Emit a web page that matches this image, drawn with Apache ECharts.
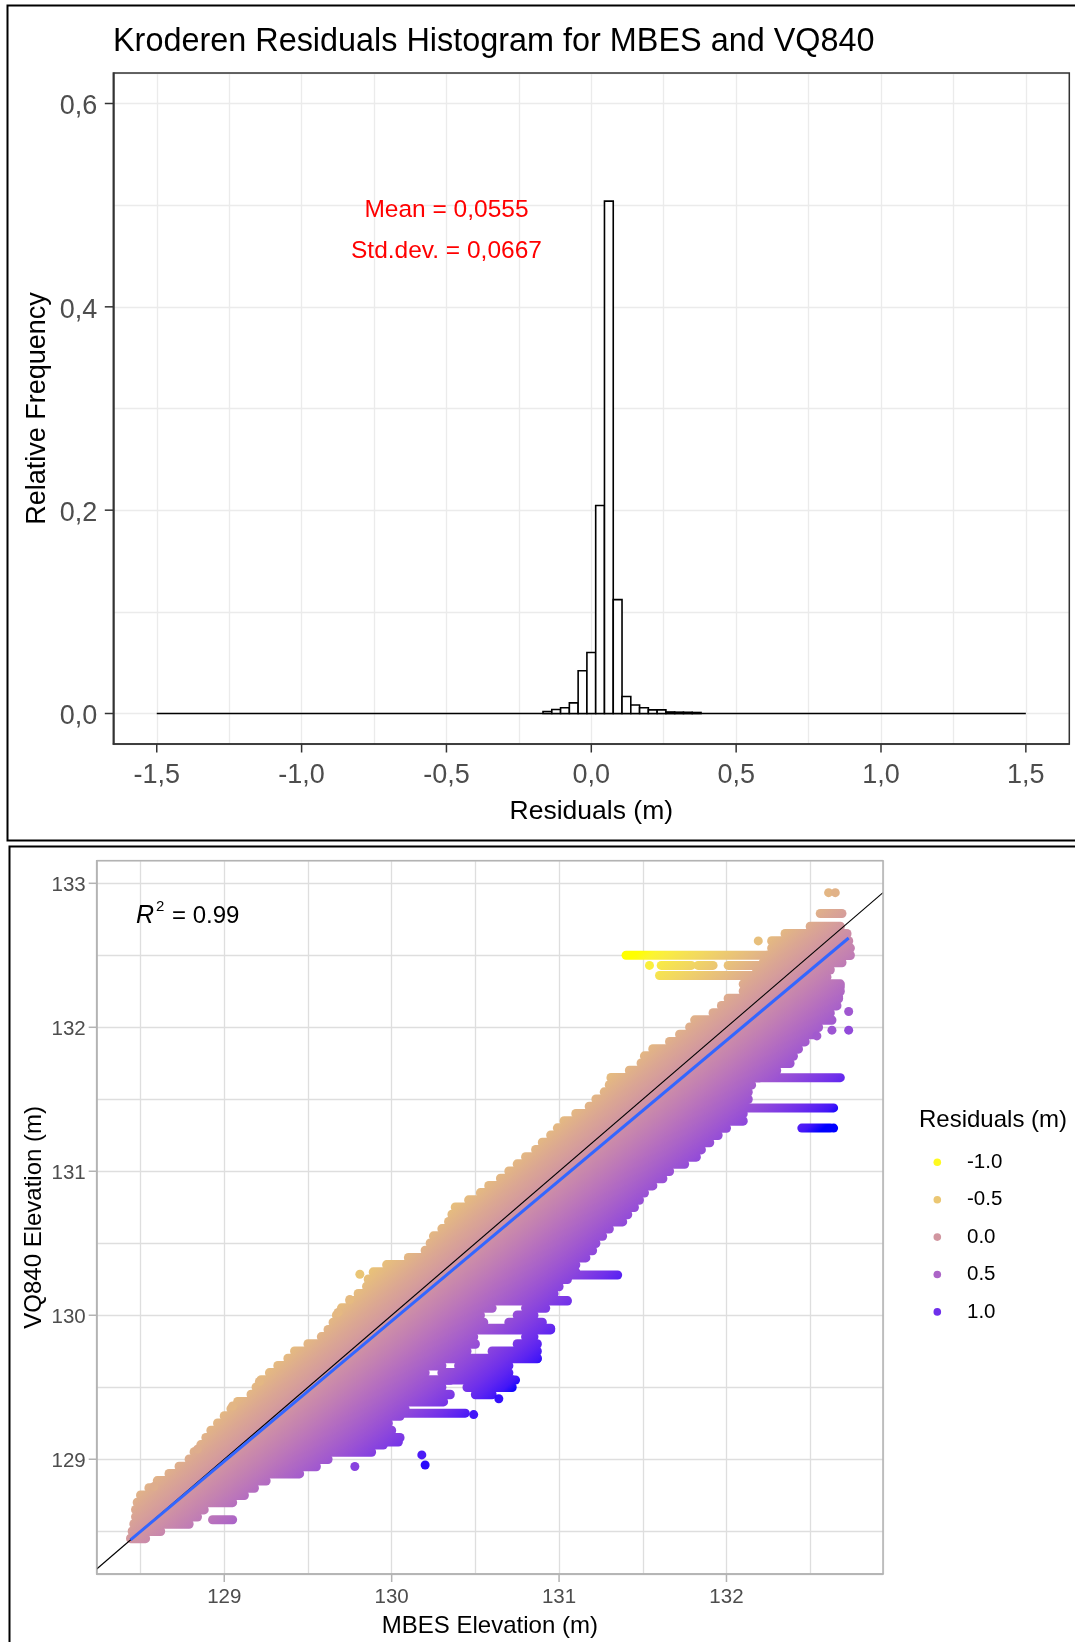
<!DOCTYPE html>
<html>
<head>
<meta charset="utf-8">
<script src="https://cdn.jsdelivr.net/npm/echarts@6/dist/echarts.min.js"></script>
<style>
  html, body { margin: 0; padding: 0; background: #ffffff; }
  #chart { width: 1075px; height: 1642px; }
</style>
</head>
<body>
<div id="chart"></div>
<script>
// ---------- Residual histogram (relative frequency, bin width 3/99 m) ----------
const binWidth = 3 / 99;
const binCentres = [-0.1515, -0.1212, -0.0909, -0.0606, -0.0303, 0.0000, 0.0303, 0.0606, 0.0909,
                    0.1212, 0.1515, 0.1818, 0.2121, 0.2424, 0.2727, 0.3030, 0.3333, 0.3636];
const relFreq    = [0.0020, 0.0040, 0.0056, 0.0105, 0.0420, 0.0600, 0.2046, 0.5040, 0.1120,
                    0.0167, 0.0083, 0.0056, 0.0036, 0.0036, 0.0015, 0.0013, 0.0012, 0.0010];
const histRange  = [-1.5, 1.5];           // empty bins drawn as a flat outline
const histXTicks = [-1.5, -1, -0.5, 0, 0.5, 1, 1.5];
const histYTicks = [0, 0.2, 0.4, 0.6];
const histXLim   = [-1.65, 1.65];
const histYLim   = [-0.03, 0.63];
const histNotes  = [[-0.5, 0.495], [-0.5, 0.455]];
const histNoteText = ['Mean = 0,0555', 'Std.dev. = 0,0667'];

// ---------- MBES vs VQ840 elevations ----------
// point cloud, one or more runs per VQ840 level -> [VQ840, MBES from, MBES to]
const bandRows = [
  [128.45, 128.44, 128.53], [128.50, 128.45, 128.62], [128.55, 128.46, 128.79],
  [128.60, 128.47, 128.84], [128.65, 128.47, 128.88], [128.70, 128.48, 129.05],
  [128.75, 128.50, 129.12], [128.80, 128.55, 129.18], [128.85, 128.60, 129.25],
  [128.90, 128.67, 129.45], [128.95, 128.73, 129.55], [129.00, 128.79, 129.62],
  [129.05, 128.82, 129.88], [129.10, 128.86, 129.95], [129.15, 128.89, 130.05],
  [129.20, 128.92, 130.00], [129.25, 128.96, 129.98], [129.30, 129.00, 130.05],
  [129.35, 129.04, 130.08], [129.40, 129.08, 130.31], [129.45, 129.16, 130.35],
  [129.45, 130.50, 130.60],
  [129.50, 129.19, 130.30], [129.50, 130.45, 130.72],
  [129.55, 129.22, 130.35], [129.55, 130.50, 130.72],
  [129.60, 129.27, 130.20], [129.60, 130.30, 130.70],
  [129.65, 129.32, 130.30], [129.65, 130.40, 130.70],
  [129.70, 129.38, 130.87],
  [129.75, 129.42, 130.45], [129.75, 130.60, 130.87],
  [129.80, 129.50, 130.50], [129.80, 130.75, 130.87],
  [129.85, 129.58, 130.49], [129.85, 130.80, 130.85],
  [129.90, 129.62, 130.95],
  [129.95, 129.65, 130.55], [129.95, 130.70, 130.90],
  [130.00, 129.67, 130.53], [130.00, 130.75, 130.85],
  [130.05, 129.70, 130.60], [130.05, 130.80, 130.92],
  [130.10, 129.75, 131.05], [130.15, 129.80, 130.97], [130.20, 129.85, 131.00],
  [130.25, 129.86, 131.05], [130.30, 129.89, 131.10], [130.35, 129.97, 131.10],
  [130.40, 130.10, 131.16], [130.45, 130.20, 131.20], [130.50, 130.23, 131.22],
  [130.55, 130.25, 131.26], [130.60, 130.30, 131.30], [130.65, 130.34, 131.38],
  [130.70, 130.36, 131.41], [130.75, 130.38, 131.45], [130.80, 130.46, 131.48],
  [130.85, 130.53, 131.51], [130.90, 130.58, 131.56], [130.95, 130.65, 131.62],
  [131.00, 130.70, 131.66], [131.05, 130.75, 131.75], [131.10, 130.80, 131.82],
  [131.15, 130.86, 131.85], [131.20, 130.90, 131.90], [131.25, 130.95, 131.95],
  [131.30, 130.99, 132.00], [131.35, 131.03, 132.10], [131.40, 131.10, 132.10],
  [131.45, 131.18, 132.10], [131.50, 131.22, 132.13], [131.55, 131.27, 132.13],
  [131.60, 131.30, 132.15], [131.65, 131.31, 132.20], [131.70, 131.42, 132.30],
  [131.75, 131.49, 132.38], [131.80, 131.51, 132.40], [131.85, 131.56, 132.43],
  [131.90, 131.66, 132.47], [131.95, 131.72, 132.52], [132.00, 131.78, 132.55],
  [132.05, 131.81, 132.63], [132.10, 131.92, 132.62], [132.15, 131.97, 132.66],
  [132.20, 132.01, 132.67], [132.25, 132.10, 132.68], [132.30, 132.10, 132.68],
  [132.35, 132.14, 132.60], [132.40, 132.18, 132.62], [132.45, 132.22, 132.69],
  [132.50, 132.25, 132.74], [132.55, 132.27, 132.74], [132.60, 132.27, 132.73],
  [132.65, 132.35, 132.72], [132.70, 132.50, 132.68]
];
// detached horizontal runs of points -> [VQ840, MBES start, MBES end]
const streaks = [
  [132.50, 131.40, 132.30], [132.43, 131.61, 131.79], [132.43, 131.83, 131.92],
  [132.43, 132.01, 132.23], [132.36, 131.60, 132.21], [132.79, 132.56, 132.69],
  [132.28, 132.53, 132.68], [132.21, 132.45, 132.67], [131.65, 132.21, 132.68],
  [131.44, 132.09, 132.64], [131.30, 132.45, 132.62], [130.28, 130.90, 131.35],
  [129.91, 130.52, 130.95], [129.70, 130.50, 130.87], [129.55, 130.30, 130.74],
  [129.32, 129.89, 130.44], [129.12, 129.75, 130.04], [128.58, 128.93, 129.05]
];
// single points -> [MBES, VQ840]
const singlePoints = [
  [132.61, 132.935], [132.65, 132.935], [132.73, 132.11], [132.63, 131.98], [132.73, 131.98],
  [132.54, 131.94], [132.64, 131.30], [131.54, 132.43], [132.19, 132.60],
  [130.64, 129.42], [130.49, 129.31], [130.18, 129.03], [130.20, 128.96], [129.78, 128.95],
  [129.81, 130.285], [129.68, 130.02], [129.75, 130.11], [129.21, 129.54], [129.05, 129.37],
  [128.84, 129.07], [128.58, 128.81]
];
const identityLine = [[128.238, 128.238], [132.935, 132.935]];
const fitLine      = [[128.44, 128.44], [132.73, 132.62]];
const scatterXTicks = [129, 130, 131, 132];
const scatterYTicks = [129, 130, 131, 132, 133];
const scatXLim = [128.238, 132.935];
const scatYLim = [128.203, 133.157];
const legendValues  = [-1.0, -0.5, 0.0, 0.5, 1.0];
const residualRange = [-1.05, 1.28];   // limits of the colour scale (m)

// ---------- colour scale: yellow -> blue interpolated in CIE Lab ----------
const WHITE = [0.95047, 1, 1.08883];
function toLin(c) { c /= 255; return c <= 0.04045 ? c / 12.92 : Math.pow((c + 0.055) / 1.055, 2.4); }
function toByte(c) {
  const v = c <= 0.0031308 ? 12.92 * c : 1.055 * Math.pow(c, 1 / 2.4) - 0.055;
  return Math.round(Math.min(1, Math.max(0, v)) * 255);
}
function rgb2lab(rgb) {
  const [r, g, b] = rgb.map(toLin);
  const X = (0.4124 * r + 0.3576 * g + 0.1805 * b) / WHITE[0];
  const Y = (0.2126 * r + 0.7152 * g + 0.0722 * b) / WHITE[1];
  const Z = (0.0193 * r + 0.1192 * g + 0.9505 * b) / WHITE[2];
  const f = t => t > 216 / 24389 ? Math.cbrt(t) : (24389 / 27 * t + 16) / 116;
  const fx = f(X), fy = f(Y), fz = f(Z);
  return [116 * fy - 16, 500 * (fx - fy), 200 * (fy - fz)];
}
function lab2rgb(lab) {
  const fy = (lab[0] + 16) / 116, fx = fy + lab[1] / 500, fz = fy - lab[2] / 200;
  const inv = t => t * t * t > 216 / 24389 ? t * t * t : (116 * t - 16) / (24389 / 27);
  const X = inv(fx) * WHITE[0], Y = inv(fy) * WHITE[1], Z = inv(fz) * WHITE[2];
  return [
    toByte(3.2406 * X - 1.5372 * Y - 0.4986 * Z),
    toByte(-0.9689 * X + 1.8758 * Y + 0.0415 * Z),
    toByte(0.0557 * X - 0.2040 * Y + 1.0570 * Z)
  ];
}
const labLow = rgb2lab([255, 255, 0]), labHigh = rgb2lab([0, 0, 255]);
function colourAt(t) {
  t = Math.min(1, Math.max(0, t));
  const c = lab2rgb(labLow.map((v, i) => v + (labHigh[i] - v) * t));
  return 'rgb(' + c.join(',') + ')';
}
function residualColour(r) {
  return colourAt((r - residualRange[0]) / (residualRange[1] - residualRange[0]));
}
const colourStops = Array.from({ length: 25 }, (_, i) => ({ offset: i / 24, color: colourAt(i / 24) }));

// gradient running across the plot so that colour follows residual = MBES - VQ840
function residualFill(api) {
  const a = api.coord([130, 130]), b = api.coord([131, 131]);
  const gx = 1 / (b[0] - a[0]), gy = 1 / (a[1] - b[1]);
  const g2 = gx * gx + gy * gy;
  const s0 = residualRange[0] / g2, s1 = residualRange[1] / g2;
  return new echarts.graphic.LinearGradient(
    a[0] + s0 * gx, a[1] + s0 * gy, a[0] + s1 * gx, a[1] + s1 * gy, colourStops, true);
}
const POINT_R = 4.5;
function runRenderer(rowHeight) {
  return function (params, api) {
    const y = api.value(0), x0 = api.value(1), x1 = api.value(2);
    const p0 = api.coord([x0, y]), p1 = api.coord([x1, y]);
    const h = rowHeight;
    return {
      type: 'rect',
      shape: { x: p0[0] - POINT_R, y: p0[1] - h / 2, width: p1[0] - p0[0] + 2 * POINT_R, height: h, r: Math.min(h / 2, POINT_R) },
      style: { fill: residualFill(api) }
    };
  };
}
// short tick marks hanging off a plot edge, placed by the axis scales
function tickMarks(xIdx, yIdx, points, dx, dy, colour) {
  return {
    type: 'custom', xAxisIndex: xIdx, yAxisIndex: yIdx, z: 120, silent: true, clip: false,
    data: points, encode: { x: 0, y: 1 },
    renderItem: function (params, api) {
      const c = api.coord([api.value(0), api.value(1)]);
      return { type: 'line', shape: { x1: c[0], y1: c[1], x2: c[0] + dx, y2: c[1] + dy }, style: { stroke: colour, lineWidth: 1.5 } };
    }
  };
}

// ---------- layout ----------
const FONT = "'Liberation Sans', Arial, Helvetica, sans-serif";
const gridHist = { left: 113.3, top: 73, width: 956, height: 671 };
const gridScat = { left: 96.7, top: 860.7, width: 786.3, height: 713.3 };
const fmtComma = v => v.toFixed(1).replace('.', ',');
const legendX = 937.3, legendTop = 1162.3, legendStep = 37.4;
const HIST_INK = '#333333', SCAT_INK = '#B3B3B3';

const chart = echarts.init(document.getElementById('chart'), null, { renderer: 'canvas' });

const graphics = [
  // panel frames
  { type: 'rect', z: 100, shape: { x: 7.5, y: 5.5, width: 1080, height: 835 }, style: { fill: 'none', stroke: '#000', lineWidth: 2 } },
  { type: 'rect', z: 100, shape: { x: 9.5, y: 846.5, width: 1080, height: 810 }, style: { fill: 'none', stroke: '#000', lineWidth: 2 } },
  // plot borders
  { type: 'rect', z: 100, shape: { x: gridHist.left, y: gridHist.top, width: gridHist.width, height: gridHist.height }, style: { fill: 'none', stroke: HIST_INK, lineWidth: 1.5 } },
  { type: 'rect', z: 100, shape: { x: gridScat.left, y: gridScat.top, width: gridScat.width, height: gridScat.height }, style: { fill: 'none', stroke: SCAT_INK, lineWidth: 1.5 } },
  // title
  { type: 'text', z: 100, x: 113, y: 42, style: { text: 'Kroderen Residuals Histogram for MBES and VQ840', font: '32.4px ' + FONT, fill: '#000', verticalAlign: 'middle', align: 'left' } },
  // coefficient of determination
  { type: 'text', z: 100, x: 136, y: 916, style: { text: 'R', font: 'italic 25px ' + FONT, fill: '#000', verticalAlign: 'middle', align: 'left' } },
  { type: 'text', z: 100, x: 156, y: 907, style: { text: '2', font: '15px ' + FONT, fill: '#000', verticalAlign: 'middle', align: 'left' } },
  { type: 'text', z: 100, x: 172, y: 916, style: { text: '= 0.99', font: '24px ' + FONT, fill: '#000', verticalAlign: 'middle', align: 'left' } },
  // colour legend
  { type: 'text', z: 100, x: 919, y: 1120, style: { text: 'Residuals (m)', font: '24px ' + FONT, fill: '#000', verticalAlign: 'middle', align: 'left' } }
];
legendValues.forEach((v, i) => {
  const y = legendTop + i * legendStep;
  graphics.push({ type: 'circle', z: 100, shape: { cx: legendX, cy: y, r: 3.8 }, style: { fill: residualColour(v) } });
  graphics.push({ type: 'text', z: 100, x: 967, y: y, style: { text: v.toFixed(1), font: '20.5px ' + FONT, fill: '#000', verticalAlign: 'middle', align: 'left' } });
});

const option = {
  animation: false,
  backgroundColor: '#ffffff',
  grid: [
    { left: gridHist.left, top: gridHist.top, width: gridHist.width, height: gridHist.height },
    { left: gridScat.left, top: gridScat.top, width: gridScat.width, height: gridScat.height }
  ],
  xAxis: [
    {
      type: 'value', gridIndex: 0, min: histXLim[0], max: histXLim[1], minInterval: 0.25, maxInterval: 0.25,
      axisLine: { show: true, onZero: false, lineStyle: { color: HIST_INK, width: 1.5 } },
      splitLine: { show: true, lineStyle: { color: '#EBEBEB', width: 1.3 } },
      axisTick: { show: false },
      axisLabel: { customValues: histXTicks, formatter: fmtComma, fontSize: 27, fontFamily: FONT, color: '#4D4D4D', margin: 18 },
      name: 'Residuals (m)', nameLocation: 'middle', nameGap: 54, nameMoveOverlap: false,
      nameTextStyle: { fontSize: 26.5, fontFamily: FONT, color: '#000' }
    },
    {
      type: 'value', gridIndex: 1, min: scatXLim[0], max: scatXLim[1], minInterval: 0.5, maxInterval: 0.5,
      axisLine: { show: true, onZero: false, lineStyle: { color: SCAT_INK, width: 1.5 } },
      splitLine: { show: true, lineStyle: { color: '#DEDEDE', width: 1.3 } },
      axisTick: { show: false },
      axisLabel: { customValues: scatterXTicks, formatter: v => String(v), fontSize: 20.5, fontFamily: FONT, color: '#4D4D4D', margin: 13 },
      name: 'MBES Elevation (m)', nameLocation: 'middle', nameGap: 40, nameMoveOverlap: false,
      nameTextStyle: { fontSize: 24, fontFamily: FONT, color: '#000' }
    }
  ],
  yAxis: [
    {
      type: 'value', gridIndex: 0, min: histYLim[0], max: histYLim[1], minInterval: 0.1, maxInterval: 0.1,
      axisLine: { show: true, onZero: false, lineStyle: { color: HIST_INK, width: 1.5 } },
      splitLine: { show: true, lineStyle: { color: '#EBEBEB', width: 1.3 } },
      axisTick: { show: false },
      axisLabel: { customValues: histYTicks, formatter: v => '{t|' + fmtComma(v) + '}', margin: 16,
                   rich: { t: { fontSize: 27, fontFamily: FONT, color: '#4D4D4D', padding: [7, 0, 0, 0] } } },
      name: 'Relative Frequency', nameLocation: 'middle', nameGap: 62, nameMoveOverlap: false,
      nameTextStyle: { fontSize: 27, fontFamily: FONT, color: '#000' }
    },
    {
      type: 'value', gridIndex: 1, min: scatYLim[0], max: scatYLim[1], minInterval: 0.5, maxInterval: 0.5,
      axisLine: { show: true, onZero: false, lineStyle: { color: SCAT_INK, width: 1.5 } },
      splitLine: { show: true, lineStyle: { color: '#DEDEDE', width: 1.3 } },
      axisTick: { show: false },
      axisLabel: { customValues: scatterYTicks, formatter: v => '{t|' + v + '}', margin: 11,
                   rich: { t: { fontSize: 20.5, fontFamily: FONT, color: '#4D4D4D', padding: [4, 0, 0, 0] } } },
      name: 'VQ840 Elevation (m)', nameLocation: 'middle', nameGap: 50, nameMoveOverlap: false,
      nameTextStyle: { fontSize: 24, fontFamily: FONT, color: '#000' }
    }
  ],
  graphic: graphics,
  series: [
    // empty bins: flat outline along zero
    {
      type: 'line', xAxisIndex: 0, yAxisIndex: 0, z: 2, silent: true, showSymbol: false,
      data: histRange.map(x => [x, 0]), lineStyle: { color: '#000', width: 1.6 }
    },
    // histogram bars
    {
      type: 'custom', xAxisIndex: 0, yAxisIndex: 0, z: 3, silent: true,
      data: binCentres.map((c, i) => [c, relFreq[i]]),
      encode: { x: 0, y: 1 },
      renderItem: function (params, api) {
        const c = api.value(0), f = api.value(1);
        const p0 = api.coord([c - binWidth / 2, f]), p1 = api.coord([c + binWidth / 2, 0]);
        return {
          type: 'rect',
          shape: { x: p0[0], y: p0[1], width: p1[0] - p0[0], height: p1[1] - p0[1] },
          style: { fill: '#ffffff', stroke: '#000000', lineWidth: 1.6 }
        };
      }
    },
    // mean / standard deviation annotations
    {
      type: 'custom', xAxisIndex: 0, yAxisIndex: 0, z: 4, silent: true,
      data: histNotes, encode: { x: 0, y: 1 },
      renderItem: function (params, api) {
        const p = api.coord([api.value(0), api.value(1)]);
        return {
          type: 'text', x: p[0], y: p[1],
          style: { text: histNoteText[params.dataIndex], font: '24.5px ' + FONT, fill: '#FF0000', align: 'center', verticalAlign: 'middle' }
        };
      }
    },
    // axis tick marks
    tickMarks(0, 0, histXTicks.map(v => [v, histYLim[0]]), 0, 8.5, HIST_INK),
    tickMarks(0, 0, histYTicks.map(v => [histXLim[0], v]), -8.5, 0, HIST_INK),
    tickMarks(1, 1, scatterXTicks.map(v => [v, scatYLim[0]]), 0, 8, SCAT_INK),
    tickMarks(1, 1, scatterYTicks.map(v => [scatXLim[0], v]), -8, 0, SCAT_INK),
    // point cloud runs
    {
      type: 'custom', xAxisIndex: 1, yAxisIndex: 1, z: 2, silent: true,
      data: bandRows, encode: { x: [1, 2], y: 0 },
      renderItem: runRenderer(9.5)
    },
    // detached runs
    {
      type: 'custom', xAxisIndex: 1, yAxisIndex: 1, z: 3, silent: true,
      data: streaks, encode: { x: [1, 2], y: 0 },
      renderItem: runRenderer(2 * POINT_R)
    },
    // single points
    {
      type: 'scatter', xAxisIndex: 1, yAxisIndex: 1, z: 4, silent: true,
      data: singlePoints, symbolSize: 2 * POINT_R,
      itemStyle: { color: p => residualColour(p.value[0] - p.value[1]), opacity: 1 }
    },
    // 1:1 line
    {
      type: 'line', xAxisIndex: 1, yAxisIndex: 1, z: 5, silent: true, showSymbol: false,
      data: identityLine, lineStyle: { color: '#000000', width: 1.1 }
    },
    // fitted regression line
    {
      type: 'line', xAxisIndex: 1, yAxisIndex: 1, z: 6, silent: true, showSymbol: false,
      data: fitLine, lineStyle: { color: '#3366FF', width: 3 }
    }
  ]
};
chart.setOption(option);
</script>
</body>
</html>
